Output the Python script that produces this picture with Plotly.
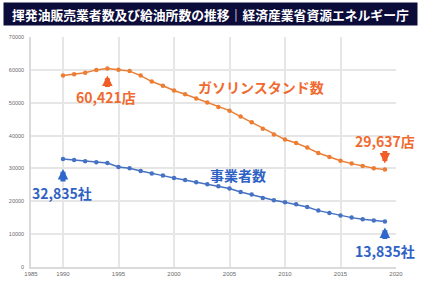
import plotly.graph_objects as go

years = list(range(1990, 2020))
stations = [58285, 58670, 59115, 59990, 60421, 60013, 59615, 58263, 56444, 55153,
            53704, 52592, 51294, 50067, 48672, 47584, 45792, 44057, 42090, 40357,
            38777, 37743, 36349, 34706, 33510, 32333, 31467, 30747, 30070, 29637]
retailers = [32835, 32560, 32200, 31900, 31620, 30450, 30060, 29220, 28420, 27810,
             27080, 26470, 25770, 25170, 24560, 23860, 22830, 22030, 21000, 20300,
             19690, 19080, 18260, 17160, 16430, 15640, 15030, 14520, 14120, 13835]
x_ticks = [1985, 1990, 1995, 2000, 2005, 2010, 2015, 2020]
y_ticks = [0, 10000, 20000, 30000, 40000, 50000, 60000, 70000]
title = "揮発油販売業者数及び給油所数の推移｜経済産業省資源エネルギー庁"

W, H = 428, 285
L, R, T, B = 30.7, 395.7, 36.7, 266.7
X0 = 1987.117
X1 = 2020
YMAX = 70000

def px_x(px):
    return X0 + (px - L) / (R - L) * (X1 - X0)

def px_y(py):
    return (B - py) / (B - T) * YMAX

FONT = "Noto Sans CJK JP"
ORANGE_LINE = "#EC7D33"
ORANGE_TXT = "#F06A30"
ORANGE_ARW = "#F25C26"
BLUE_LINE = "#4672C4"
BLUE_TXT = "#2F62C4"
BLUE_ARW = "#2F66CC"

fig = go.Figure()
fig.add_trace(go.Scatter(x=years, y=stations, mode="lines+markers",
                         line=dict(color=ORANGE_LINE, width=1.5),
                         marker=dict(color=ORANGE_LINE, size=4.5),
                         showlegend=False))
fig.add_trace(go.Scatter(x=years, y=retailers, mode="lines+markers",
                         line=dict(color=BLUE_LINE, width=1.5),
                         marker=dict(color=BLUE_LINE, size=4.5),
                         showlegend=False))

tickvals = [X0] + x_ticks[1:]
ticktext = [str(v) for v in x_ticks]

fig.update_xaxes(range=[X0, X1], tickvals=tickvals, ticktext=ticktext,
                 showgrid=True, gridcolor="#E6E6E6", gridwidth=1.5,
                 zeroline=False, showline=True, linecolor="#DADADA", linewidth=1.5,
                 tickfont=dict(size=6, color="#6A6A6A", family="Liberation Sans"),
                 ticks="", fixedrange=True, automargin=False)
fig.update_yaxes(range=[0, YMAX], tickvals=y_ticks, ticktext=[str(v) for v in y_ticks],
                 showgrid=True, gridcolor="#E6E6E6", gridwidth=1.5,
                 zeroline=False, showline=True, linecolor="#DADADA", linewidth=1.5,
                 tickfont=dict(size=5.5, color="#6A6A6A", family="Liberation Sans"),
                 ticks="", ticklabelstandoff=4, fixedrange=True, automargin=False)

anns = []
# title banner
anns.append(dict(xref="paper", yref="paper",
                 x=(210.5 - L) / (R - L), y=1 - (14 - T) / (B - T),
                 text="<b>" + title + "</b>", showarrow=False,
                 font=dict(family=FONT, size=12.8, color="white"),
                 bgcolor="#0C0C3A", width=411, height=20, borderpad=1,
                 xanchor="center", yanchor="middle"))

def label(cx, cy, text, color, size=14):
    anns.append(dict(x=px_x(cx), y=px_y(cy), text="<b>" + text + "</b>",
                     showarrow=False, xanchor="center", yanchor="middle",
                     font=dict(family=FONT, size=size, color=color)))

label(106, 97, "60,421店", ORANGE_TXT)
label(260.5, 86.5, "ガソリンスタンド数", ORANGE_TXT)
label(385, 141, "29,637店", ORANGE_TXT)
label(61.7, 193, "32,835社", BLUE_TXT)
label(237.5, 175, "事業者数", BLUE_TXT)
label(385, 250.5, "13,835社", BLUE_TXT)

def arrow(x, y, ay, standoff, color):
    anns.append(dict(x=x, y=y, text="", showarrow=True, ax=0, ay=ay,
                     arrowhead=2, arrowsize=0.42, arrowwidth=5,
                     arrowcolor=color, standoff=standoff))

arrow(years[4], stations[4], 20, 7, ORANGE_ARW)
arrow(years[-1], stations[-1], -20, 6, ORANGE_ARW)
arrow(years[0], retailers[0], 24, 10, BLUE_ARW)
arrow(years[-1], retailers[-1], 19, 6, BLUE_ARW)

fig.update_layout(width=W, height=H,
                  margin=dict(l=L, r=W - R, t=T, b=H - B, pad=0),
                  paper_bgcolor="white", plot_bgcolor="white",
                  annotations=anns, showlegend=False,
                  font=dict(family=FONT))

fig.write_html("out.html", config={"displayModeBar": False})
